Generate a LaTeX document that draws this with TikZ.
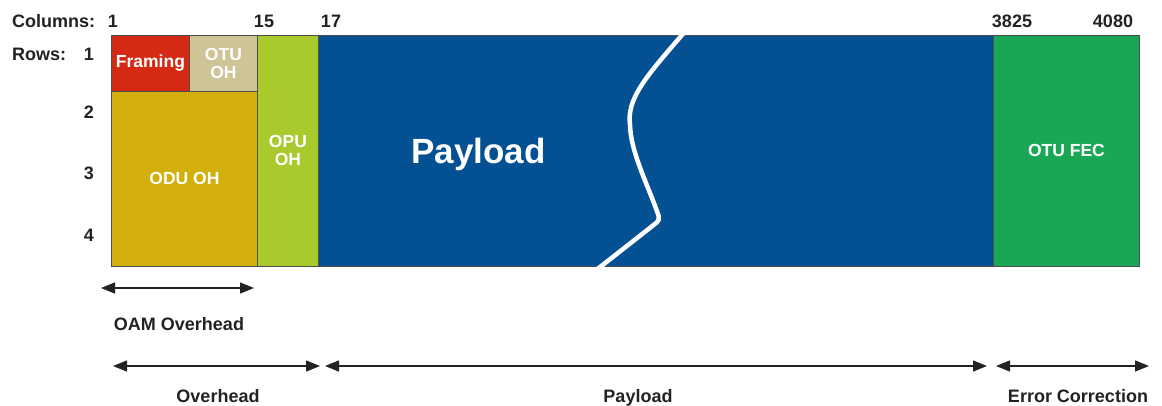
\documentclass[tikz,border=0pt]{standalone}
\usepackage{fontspec}
\setmainfont{Liberation Sans}
\usetikzlibrary{arrows.meta}
\definecolor{framingred}{HTML}{D42A14}
\definecolor{otubeige}{HTML}{CFC496}
\definecolor{odugold}{HTML}{D3AF0C}
\definecolor{opulime}{HTML}{A8CA2D}
\definecolor{payblue}{HTML}{035093}
\definecolor{fecgreen}{HTML}{1AA755}
\definecolor{inkdark}{HTML}{222222}
\tikzset{
  field/.style={draw=inkdark!80, line width=0.9pt, inner sep=0pt, anchor=north west,
    text=white, font=\fontsize{17.5}{19}\selectfont\bfseries, align=center},
  lbl/.style={inner sep=0pt, anchor=base, text=inkdark, font=\fontsize{18}{20}\selectfont\bfseries},
  span/.style={line width=1.3pt, draw=inkdark, {Triangle[length=14pt,width=11pt]}-{Triangle[length=14pt,width=11pt]}},
}
\begin{document}
\begin{tikzpicture}[x=1pt,y=-1pt]
\useasboundingbox (0,0) rectangle (1162,405);

% frame fields
\node[field, fill=framingred, minimum width=78pt, minimum height=56pt] (framing) at (111,35) {Framing};
\node[field, fill=otubeige, minimum width=68pt, minimum height=56pt] (otuoh) at (189,35) {OTU\\[-1pt]OH};
\node[field, fill=odugold, minimum width=146pt, minimum height=175pt] (oduoh) at (111,91) {ODU OH};
\node[field, fill=opulime, minimum width=61pt, minimum height=231pt] (opuoh) at (257,35) {OPU\\[-1pt]OH};
\node[field, fill=payblue, minimum width=675pt, minimum height=231pt] (payload) at (318,35) {};
\node[field, fill=fecgreen, minimum width=146pt, minimum height=231pt] (fec) at (993,35) {OTU FEC};
\node[inner sep=0pt, anchor=base west, text=white, font=\fontsize{35}{40}\selectfont\bfseries] (paytext) at (411,163) {Payload};

% break mark across the payload
\draw[white, line width=4.5pt, line cap=round, rounded corners=4pt]
  (688,28) .. controls (652,70) and (628,95) .. (630,125)
  .. controls (632,155) and (650,190) .. (660,220) -- (595,271);

% column and row numbers
\node[lbl, anchor=base west] (colhdr) at (12,27) {Columns:};
\node[lbl] (c1) at (113,27) {1};
\node[lbl] (c15) at (264,27) {15};
\node[lbl] (c17) at (331,27) {17};
\node[lbl] (c3825) at (1012,27) {3825};
\node[lbl] (c4080) at (1113,27) {4080};
\node[lbl, anchor=base west] (rowhdr) at (12,60) {Rows:};
\node[lbl] (r1) at (89,60) {1};
\node[lbl] (r2) at (89,118) {2};
\node[lbl] (r3) at (89,179) {3};
\node[lbl] (r4) at (89,241) {4};

% extents below the frame
\coordinate (oamL) at (101,288);
\coordinate (oamR) at (254,288);
\coordinate (ohL) at (113,366);
\coordinate (ohR) at (320,366);
\coordinate (plL) at (325,366);
\coordinate (plR) at (987,366);
\coordinate (ecL) at (996,366);
\coordinate (ecR) at (1149,366);
\draw[span] (oamL) -- (oamR);
\draw[span] (ohL) -- (ohR);
\draw[span] (plL) -- (plR);
\draw[span] (ecL) -- (ecR);

\node[lbl] (oamtext) at (179,330) {OAM Overhead};
\node[lbl] (ohtext) at (218,402) {Overhead};
\node[lbl] (pltext) at (638,402) {Payload};
\node[lbl] (ectext) at (1078,402) {Error Correction};
\end{tikzpicture}
\end{document}
